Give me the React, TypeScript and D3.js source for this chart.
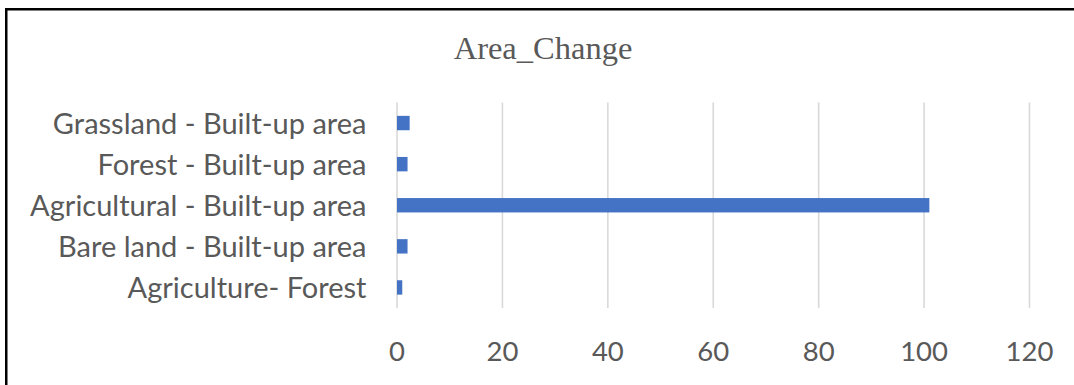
import React from "react";
import * as d3 from "d3";

const categories = [
  "Grassland - Built-up area",
  "Forest - Built-up area",
  "Agricultural - Built-up area",
  "Bare land - Built-up area",
  "Agriculture- Forest",
];
const values = [2.4, 2.0, 101, 2.0, 1.0];
const xTicks = [0, 20, 40, 60, 80, 100, 120];
const title = "Area_Change";

const W = 1074;
const H = 385;
const TEXT = "#595959";

export default function App() {
  const x = d3.scaleLinear().domain([0, 120]).range([397, 1029.5]);
  const y = d3
    .scaleBand<string>()
    .domain(categories)
    .range([102.5, 308])
    .paddingInner(0.65)
    .paddingOuter(0.325);

  return (
    <svg
      width={W}
      height={H}
      style={{ position: "absolute", left: 0, top: 0, background: "#fff" }}
    >
      <rect x={0} y={0} width={W} height={H} fill="#fff" />
      {/* frame: top and left edges */}
      <path d={`M6.25 ${H} V9.25 H${W}`} fill="none" stroke="#000" strokeWidth={2.5} />

      <text
        x={543}
        y={59}
        textAnchor="middle"
        fontFamily="'Liberation Serif', 'Times New Roman', serif"
        fontSize={32.5}
        fill={TEXT}
      >
        {title}
      </text>

      {/* vertical gridlines */}
      {xTicks.map((t) => (
        <line
          key={t}
          x1={x(t)}
          x2={x(t)}
          y1={102.5}
          y2={308}
          stroke="#d9d9d9"
          strokeWidth={1.6}
        />
      ))}

      {/* bars */}
      {categories.map((c, i) => (
        <rect
          key={c}
          x={x(0)}
          y={y(c)}
          width={x(values[i]) - x(0)}
          height={y.bandwidth()}
          fill="#4472C4"
        />
      ))}

      {/* category labels */}
      {categories.map((c) => (
        <text
          key={c}
          x={366.5}
          y={(y(c) as number) + y.bandwidth() / 2 + 10.5}
          textAnchor="end"
          fontFamily="Lato, 'Open Sans', sans-serif"
          fontSize={29}
          fill={TEXT}
        >
          {c}
        </text>
      ))}

      {/* x tick labels */}
      {xTicks.map((t) => (
        <text
          key={t}
          x={x(t)}
          y={361}
          textAnchor="middle"
          fontFamily="Lato, 'Open Sans', sans-serif"
          fontSize={27.5}
          fill={TEXT}
        >
          {t}
        </text>
      ))}
    </svg>
  );
}
